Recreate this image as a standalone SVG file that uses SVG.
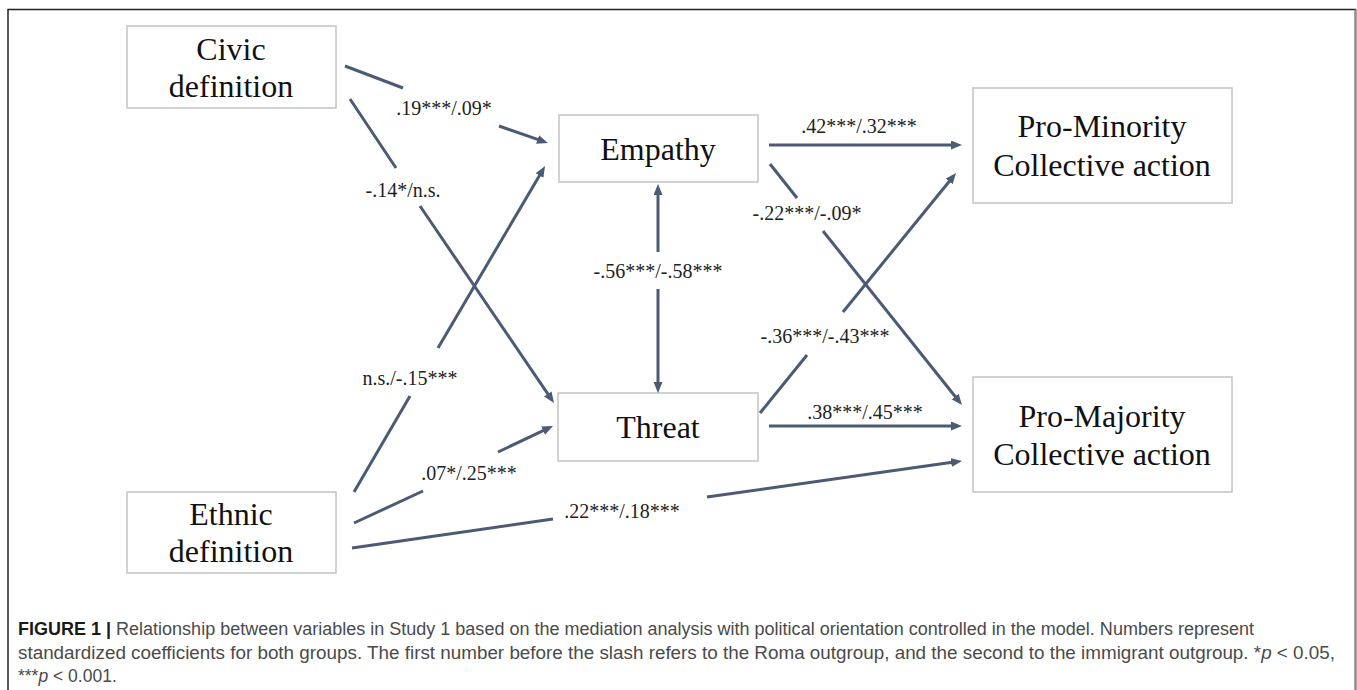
<svg xmlns="http://www.w3.org/2000/svg" width="1357" height="690" viewBox="0 0 1357 690">
  <style>
    .box { fill: #ffffff; stroke: #c4c4c4; stroke-width: 1.5; }
    .node { font-family: "Liberation Serif", "Times New Roman", serif; font-size: 32px; fill: #111; text-anchor: middle; }
    .lbl { font-family: "Liberation Serif", "Times New Roman", serif; font-size: 20px; fill: #222; text-anchor: middle; }
    .edge { fill: none; stroke: #4b5b74; stroke-width: 3; }
    .cap { font-family: "Liberation Sans", Arial, sans-serif; font-size: 17.5px; fill: #4a4a4a; }
    .capb { font-weight: bold; fill: #1a1a1a; }
  </style>
  <defs>
    <marker id="ah" markerWidth="12" markerHeight="10" refX="3" refY="4.5" orient="auto-start-reverse" markerUnits="userSpaceOnUse">
      <path d="M0,0 L11,4.5 L0,9 z" fill="#4b5b74"/>
    </marker>
  </defs>
  <rect width="1357" height="690" fill="#ffffff"/>
  <rect x="8" y="9.5" width="1347.5" height="700" fill="none" stroke="#222" stroke-width="1.5"/>
  <line x1="1355.5" y1="9.5" x2="1355.5" y2="690" stroke="#8a8a8a" stroke-width="2"/>

  <g id="civic">
    <rect class="box" x="127" y="26" width="209" height="82"/>
    <text class="node" x="231" y="60">Civic</text>
    <text class="node" x="231" y="97">definition</text>
  </g>
  <g id="ethnic">
    <rect class="box" x="127" y="492" width="209" height="81"/>
    <text class="node" x="231" y="525">Ethnic</text>
    <text class="node" x="231" y="562">definition</text>
  </g>
  <g id="empathy">
    <rect class="box" x="559" y="115" width="199" height="67"/>
    <text class="node" x="658" y="160">Empathy</text>
  </g>
  <g id="threat">
    <rect class="box" x="558" y="393" width="200" height="68"/>
    <text class="node" x="658" y="438">Threat</text>
  </g>
  <g id="prominority">
    <rect class="box" x="973" y="88" width="259" height="115"/>
    <text class="node" x="1102" y="137">Pro-Minority</text>
    <text class="node" x="1102" y="176">Collective action</text>
  </g>
  <g id="promajority">
    <rect class="box" x="973" y="377" width="259" height="115"/>
    <text class="node" x="1102" y="427">Pro-Majority</text>
    <text class="node" x="1102" y="465">Collective action</text>
  </g>

  <g id="connectors">
    <line class="edge" x1="345" y1="66" x2="403" y2="88"/>
    <line class="edge" x1="499" y1="126" x2="540.4" y2="140.4" marker-end="url(#ah)"/>

    <line class="edge" x1="350" y1="99" x2="396" y2="168"/>
    <line class="edge" x1="420" y1="206" x2="549.5" y2="396.4" marker-end="url(#ah)"/>

    <line class="edge" x1="354" y1="492" x2="410" y2="396"/>
    <line class="edge" x1="438" y1="348" x2="541" y2="172.9" marker-end="url(#ah)"/>

    <line class="edge" x1="354" y1="523" x2="423" y2="491"/>
    <line class="edge" x1="498" y1="452" x2="545.8" y2="429.4" marker-end="url(#ah)"/>

    <line class="edge" x1="352" y1="548" x2="553" y2="519"/>
    <line class="edge" x1="707" y1="497" x2="954.1" y2="462.1" marker-end="url(#ah)"/>

    <line class="edge" x1="658" y1="252" x2="658" y2="192" marker-end="url(#ah)"/>
    <line class="edge" x1="658" y1="289" x2="658" y2="385" marker-end="url(#ah)"/>

    <line class="edge" x1="769" y1="145" x2="954" y2="145" marker-end="url(#ah)"/>

    <line class="edge" x1="770" y1="164" x2="797" y2="198"/>
    <line class="edge" x1="823" y1="231" x2="957" y2="398.8" marker-end="url(#ah)"/>

    <line class="edge" x1="760" y1="413" x2="807" y2="355"/>
    <line class="edge" x1="843" y1="312" x2="951" y2="179.2" marker-end="url(#ah)"/>

    <line class="edge" x1="769" y1="426" x2="954" y2="426" marker-end="url(#ah)"/>

    <text class="lbl" x="444" y="115">.19***/.09*</text>
    <text class="lbl" x="403" y="197">-.14*/n.s.</text>
    <text class="lbl" x="410" y="385">n.s./-.15***</text>
    <text class="lbl" x="469" y="480">.07*/.25***</text>
    <text class="lbl" x="622" y="518">.22***/.18***</text>
    <text class="lbl" x="658" y="278">-.56***/-.58***</text>
    <text class="lbl" x="859" y="133">.42***/.32***</text>
    <text class="lbl" x="807" y="220">-.22***/-.09*</text>
    <text class="lbl" x="825" y="343">-.36***/-.43***</text>
    <text class="lbl" x="865" y="419">.38***/.45***</text>
  </g>

  <g id="caption">
    <text class="cap" x="18" y="635" textLength="1236" lengthAdjust="spacingAndGlyphs"><tspan class="capb">FIGURE 1 |</tspan> Relationship between variables in Study 1 based on the mediation analysis with political orientation controlled in the model. Numbers represent</text>
    <text class="cap" x="18" y="658.5" textLength="1317" lengthAdjust="spacingAndGlyphs">standardized coefficients for both groups. The first number before the slash refers to the Roma outgroup, and the second to the immigrant outgroup. *<tspan font-style="italic">p</tspan> &lt; 0.05,</text>
    <text class="cap" x="18" y="682">***<tspan font-style="italic">p</tspan> &lt; 0.001.</text>
  </g>
</svg>
